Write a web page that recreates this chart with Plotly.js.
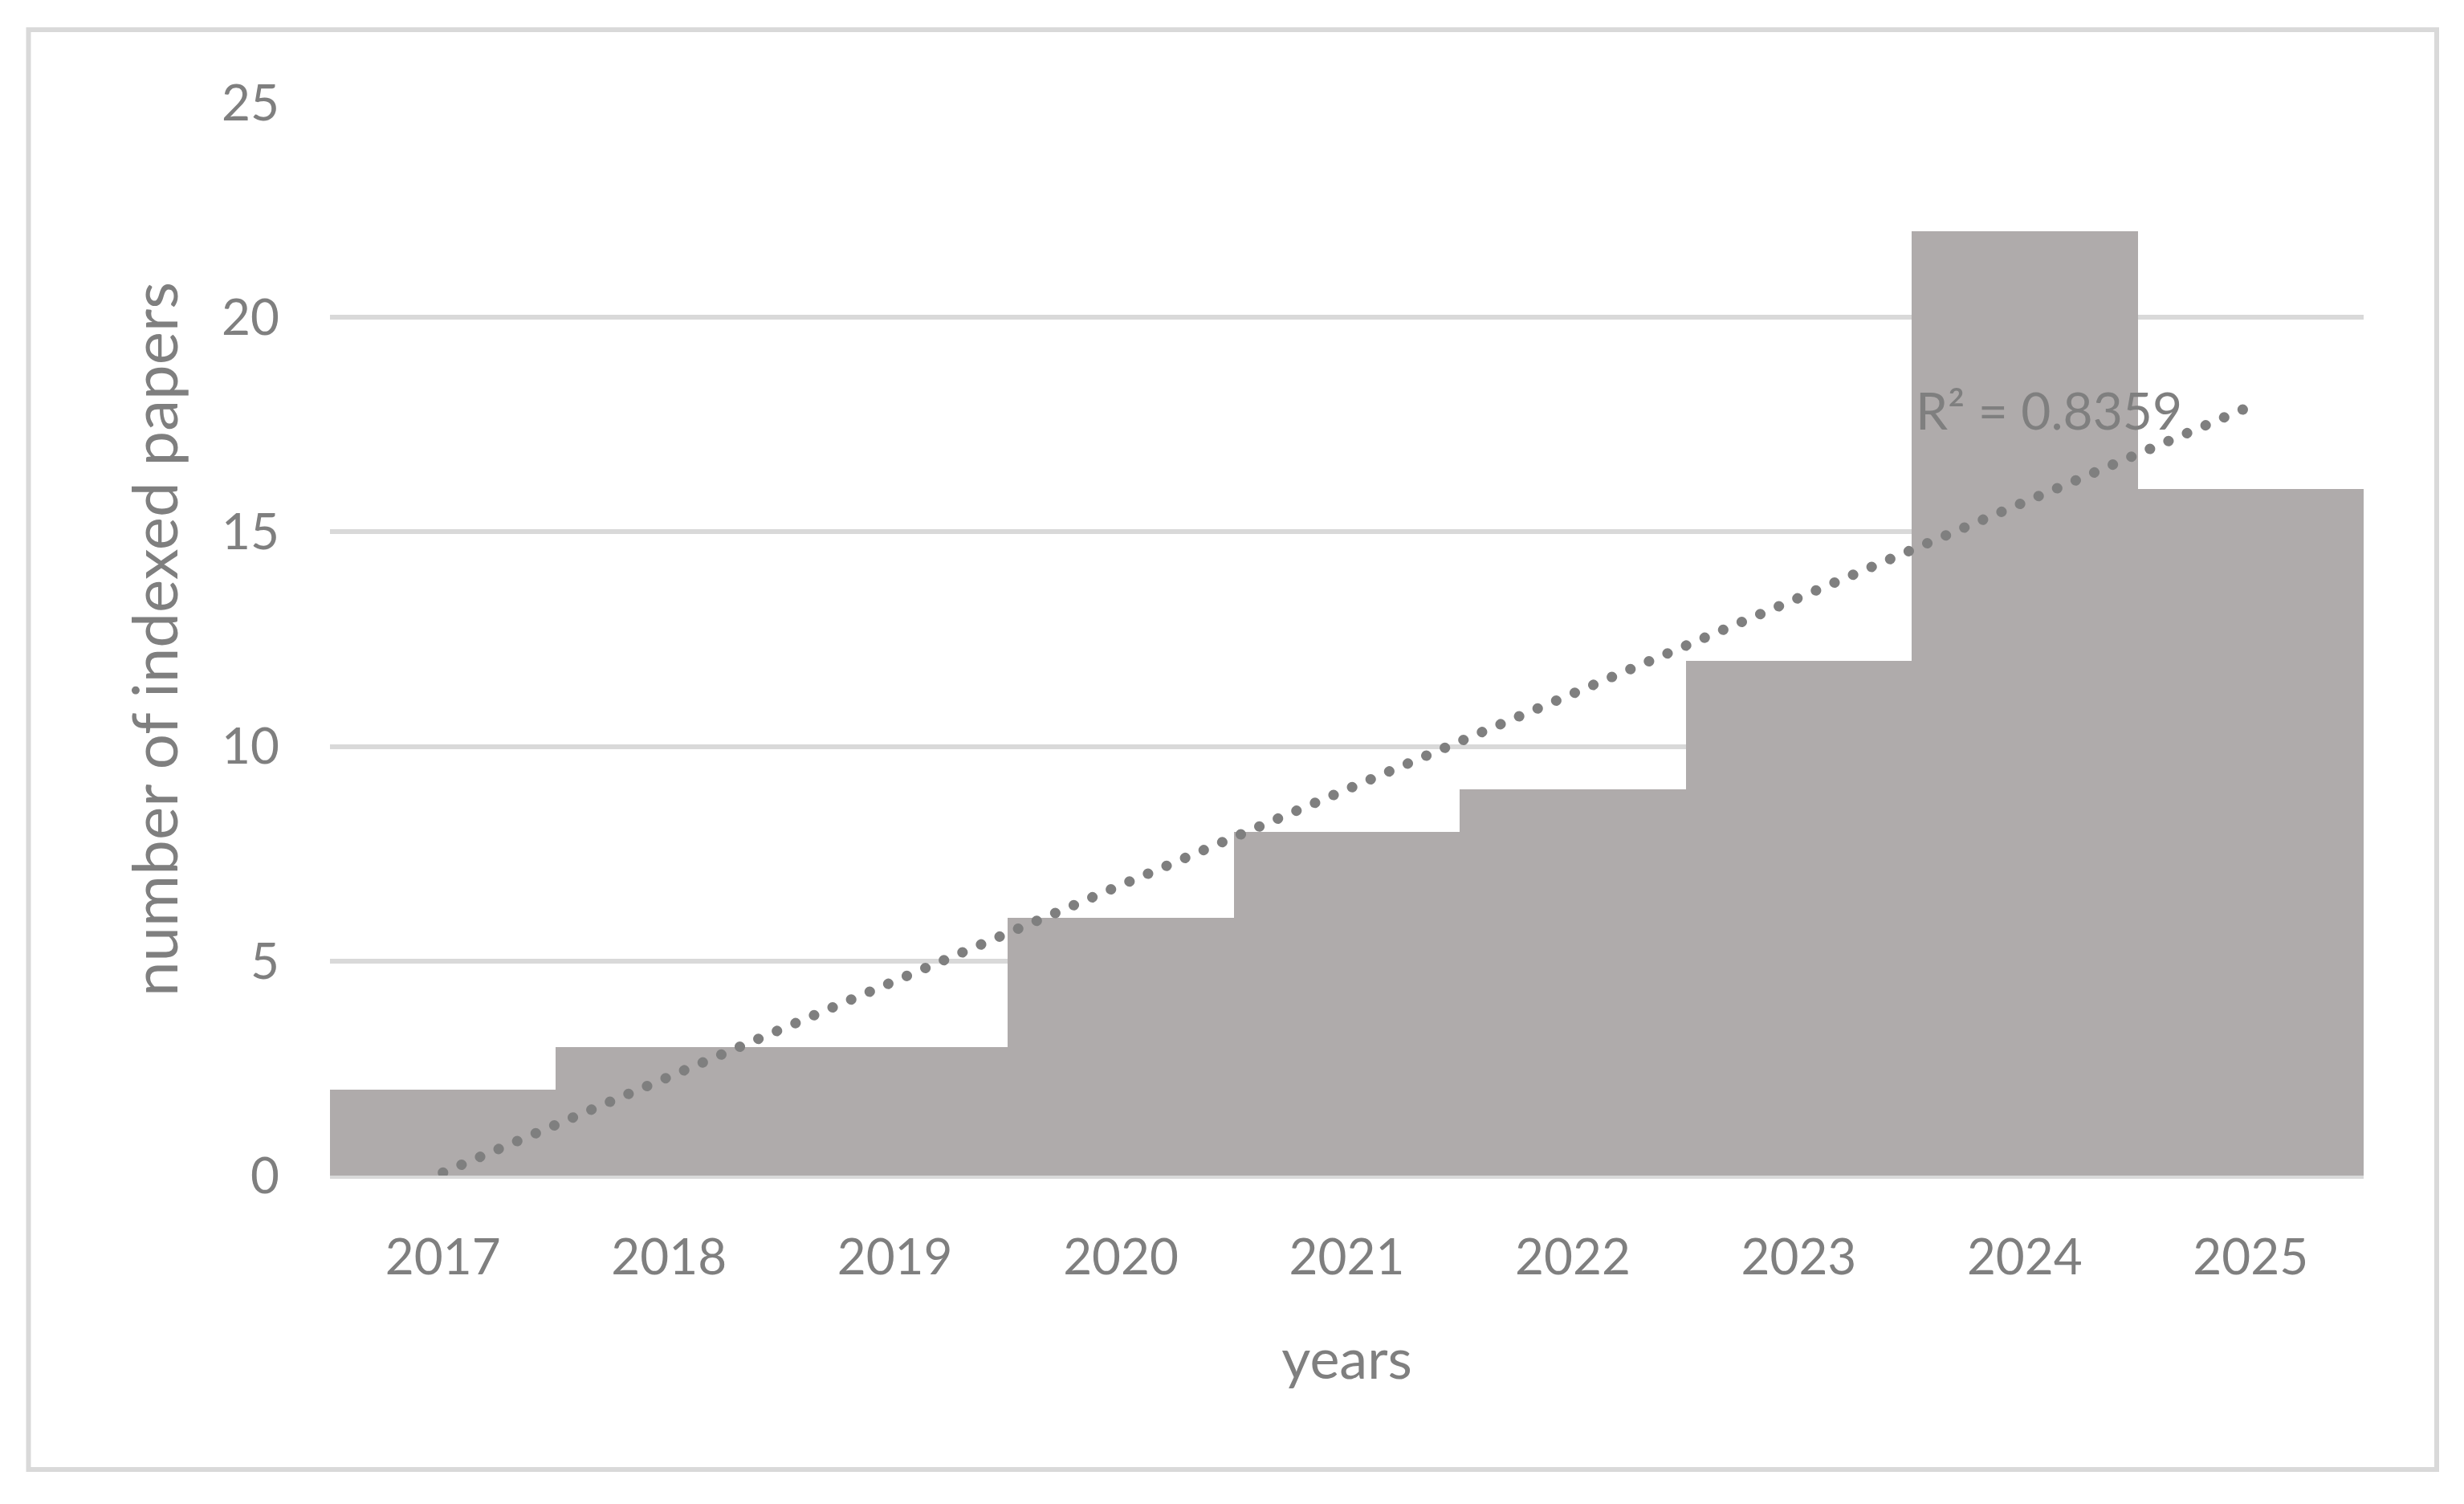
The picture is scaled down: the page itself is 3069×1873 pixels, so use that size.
<!DOCTYPE html>
<html>
<head>
<meta charset="utf-8">
<script src="https://cdn.plot.ly/plotly-3.0.1.min.js"></script>
<style>
html,body{margin:0;padding:0;background:#fff;}
#chart{width:3069px;height:1873px;}
</style>
</head>
<body>
<div id="chart"></div>
<script>
// Data
const years = ['2017','2018','2019','2020','2021','2022','2023','2024','2025'];
const papers = [2, 3, 3, 6, 8, 9, 12, 22, 16];
// Linear trendline end points
const trendX = ['2017', '2025'];
const trendY = [0.07, 17.93];
const r2Label = 'R² = 0.8359';
const yTicks = [0, 5, 10, 15, 20, 25];

const textColor = '#7f7f7f';
const fontFamily = 'Lato, "Open Sans", sans-serif';

const traces = [
  {
    type: 'bar',
    x: years,
    y: papers,
    marker: {color: '#afabab', line: {width: 0}},
    hoverinfo: 'x+y',
    showlegend: false
  },
  {
    type: 'scatter',
    mode: 'lines',
    x: trendX,
    y: trendY,
    line: {color: '#7f7f7f', width: 13, dash: 'dot'},
    hoverinfo: 'skip',
    showlegend: false
  }
];

const layout = {
  width: 3069,
  height: 1873,
  paper_bgcolor: '#ffffff',
  plot_bgcolor: '#ffffff',
  margin: {l: 411, r: 125, t: 128, b: 409, pad: 0},
  bargap: 0,
  font: {family: fontFamily, color: textColor, size: 62},
  xaxis: {
    type: 'category',
    tickvals: years,
    ticktext: years,
    showgrid: false,
    zeroline: false,
    showline: false,
    ticks: '',
    ticklabelstandoff: 60,
    tickfont: {family: fontFamily, size: 62, color: textColor},
    title: {text: 'years', font: {family: fontFamily, size: 70, color: textColor}, standoff: 68}
  },
  yaxis: {
    range: [0, 25],
    tickvals: yTicks,
    showgrid: true,
    gridcolor: '#d9d9d9',
    gridwidth: 6,
    zeroline: true,
    zerolinecolor: '#d9d9d9',
    zerolinewidth: 7,
    showline: false,
    ticks: '',
    ticklabelstandoff: 62,
    tickfont: {family: fontFamily, size: 62, color: textColor},
    title: {text: 'number of indexed papers', font: {family: fontFamily, size: 78, color: textColor}, standoff: 28}
  },
  annotations: [
    {
      xref: 'x', yref: 'y',
      x: 6.51, y: 17.85,
      xanchor: 'left', yanchor: 'middle',
      text: r2Label,
      showarrow: false,
      font: {family: fontFamily, size: 64, color: textColor}
    }
  ],
  shapes: [
    {
      type: 'rect', xref: 'paper', yref: 'paper',
      x0: -0.14824, x1: 1.03592, y0: -0.27395, y1: 1.06811,
      line: {color: '#d9d9d9', width: 6},
      fillcolor: 'rgba(0,0,0,0)',
      layer: 'below'
    }
  ]
};

Plotly.newPlot('chart', traces, layout, {displayModeBar: false, staticPlot: true}).then(function(gd){
  // round dotted trendline like the original
  gd.querySelectorAll('.scatterlayer .js-line').forEach(function(p){
    p.style.strokeLinecap = 'round';
    p.style.strokeDasharray = '0.1px,25px';
  });
});
</script>
</body>
</html>
